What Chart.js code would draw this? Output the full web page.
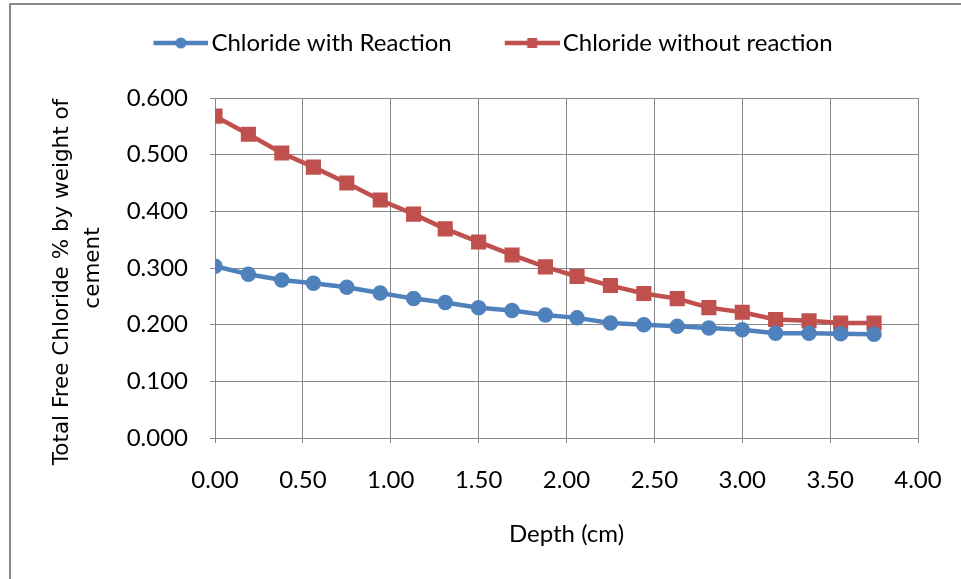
<!DOCTYPE html>
<html>
<head>
<meta charset="utf-8">
<script src="https://cdn.jsdelivr.net/npm/chart.js@4/dist/chart.umd.min.js"></script>
<style>
  html, body { margin: 0; padding: 0; background: #fff; overflow: hidden; }
  #wrap { position: relative; width: 961px; height: 579px; }
  #frame { position: absolute; left: 9px; top: 3px; width: 1000px; height: 700px;
           border-left: 2px solid #8a8a8a; border-top: 2px solid #8a8a8a; pointer-events: none; }
  canvas { position: absolute; left: 0; top: 0; }
</style>
</head>
<body>
<div id="wrap">
  <canvas id="c" width="961" height="579"></canvas>
  <div id="frame"></div>
</div>
<script>
// Depth (cm)
const depth = [0.00, 0.19, 0.38, 0.56, 0.75, 0.94, 1.13, 1.31, 1.50, 1.69, 1.88,
               2.06, 2.25, 2.44, 2.63, 2.81, 3.00, 3.19, 3.38, 3.56, 3.75];
// Chloride with Reaction
const withReaction = [0.303, 0.289, 0.279, 0.273, 0.266, 0.256, 0.246, 0.239, 0.230, 0.225, 0.217,
                      0.212, 0.203, 0.200, 0.197, 0.194, 0.191, 0.185, 0.185, 0.184, 0.183];
// Chloride without reaction
const withoutReaction = [0.568, 0.536, 0.503, 0.478, 0.450, 0.420, 0.395, 0.369, 0.346, 0.323, 0.302,
                         0.285, 0.269, 0.255, 0.246, 0.230, 0.222, 0.209, 0.207, 0.203, 0.203];
const seriesNames = ["Chloride with Reaction", "Chloride without reaction"];
const xTitle = "Depth (cm)";
const yTitle = ["Total Free Chloride % by weight of", "cement"];

const BLUE = "#4F81BD", RED = "#C0504D";
const FONT = "Lato";
const FS = 24;            // legend / tick font size
const LEG_PAD = 10;
const BOX_W = 89;         // legend box width (includes blank lead-in)

// legend icon: line + marker, drawn so that it ends just before the text
function legendIcon(color, shape) {
  const W = 107, H = 16;
  const c = document.createElement("canvas");
  c.width = W; c.height = H;
  const g = c.getContext("2d");
  const x0 = 52, x1 = 107, ym = 8;
  g.strokeStyle = color; g.lineWidth = 4.5;
  g.beginPath(); g.moveTo(x0, ym); g.lineTo(x1, ym); g.stroke();
  g.fillStyle = color;
  const xm = (x0 + x1) / 2;
  if (shape === "circle") { g.beginPath(); g.arc(xm, ym, 5.5, 0, Math.PI * 2); g.fill(); }
  else { g.fillRect(xm - 5, ym - 5, 10, 10); }
  return c;
}

const toXY = (ys) => depth.map((d, i) => ({ x: d, y: ys[i] }));

// y-axis title drawn without width compression
const yTitlePlugin = {
  id: "yTitle2",
  afterDraw(chart) {
    const { ctx, chartArea } = chart;
    const cy = (chartArea.top + chartArea.bottom) / 2;
    ctx.save();
    ctx.fillStyle = "#000";
    ctx.font = "21.5px 'DejaVu Sans'";
    ctx.textAlign = "center";
    ctx.textBaseline = "middle";
    const xs = [62, 93], offs = [14, 0];
    yTitle.forEach((t, i) => {
      ctx.save();
      ctx.translate(xs[i], cy + offs[i]);
      ctx.rotate(-Math.PI / 2);
      ctx.fillText(t, 0, 0);
      ctx.restore();
    });
    ctx.restore();
  }
};

new Chart(document.getElementById("c"), {
  type: "line",
  data: {
    datasets: [
      { label: seriesNames[0], data: toXY(withReaction), borderColor: BLUE, backgroundColor: BLUE,
        borderWidth: 4.5, pointStyle: "circle", pointRadius: 5.5, pointHoverRadius: 5.5, tension: 0 },
      { label: seriesNames[1], data: toXY(withoutReaction), borderColor: RED, backgroundColor: RED,
        borderWidth: 4.5, pointStyle: "rect", pointRadius: 7.5, pointHoverRadius: 7.5, tension: 0 }
    ]
  },
  plugins: [yTitlePlugin],
  options: {
    responsive: false,
    animation: false,
    events: [],
    layout: { padding: { left: 22, right: 40, top: 21, bottom: 0 } },
    plugins: {
      tooltip: { enabled: false },
      title: { display: true, text: "", weight: 500, font: { size: 10 }, padding: { top: 0, bottom: 21 } },
      legend: {
        position: "top",
        weight: 1000,
        labels: {
          usePointStyle: true,
          pointStyleWidth: BOX_W,
          color: "#000",
          font: { family: FONT, size: FS },
          padding: LEG_PAD,
          generateLabels: (chart) => [
            { text: seriesNames[0], pointStyle: legendIcon(BLUE, "circle"), datasetIndex: 0, lineWidth: 0, strokeStyle: BLUE, fillStyle: BLUE, fontColor: "#000" },
            { text: seriesNames[1], pointStyle: legendIcon(RED, "rect"), datasetIndex: 1, lineWidth: 0, strokeStyle: RED, fillStyle: RED, fontColor: "#000" }
          ]
        }
      }
    },
    scales: {
      x: {
        type: "linear",
        min: 0, max: 4,
        afterFit: (s) => { s.height = 141; s.paddingRight = 43; },
        ticks: { stepSize: 0.5, color: "#000", font: { family: FONT, size: FS }, padding: 23,
                 callback: (v) => v.toFixed(2), maxRotation: 0 },
        grid: { color: "#888888", lineWidth: 1, tickLength: 5 },
        border: { color: "#888888", width: 1 },
        title: { display: true, text: xTitle, color: "#000", font: { family: FONT, size: FS }, padding: { top: 0, bottom: 30 } }
      },
      y: {
        min: 0, max: 0.6,
        afterFit: (s) => { s.width = 193; },
        ticks: { stepSize: 0.1, color: "#000", font: { family: FONT, size: FS }, padding: 22,
                 callback: (v) => v.toFixed(3) },
        grid: { color: "#888888", lineWidth: 1, tickLength: 5 },
        border: { color: "#888888", width: 1 }
      }
    }
  }
});
</script>
</body>
</html>
